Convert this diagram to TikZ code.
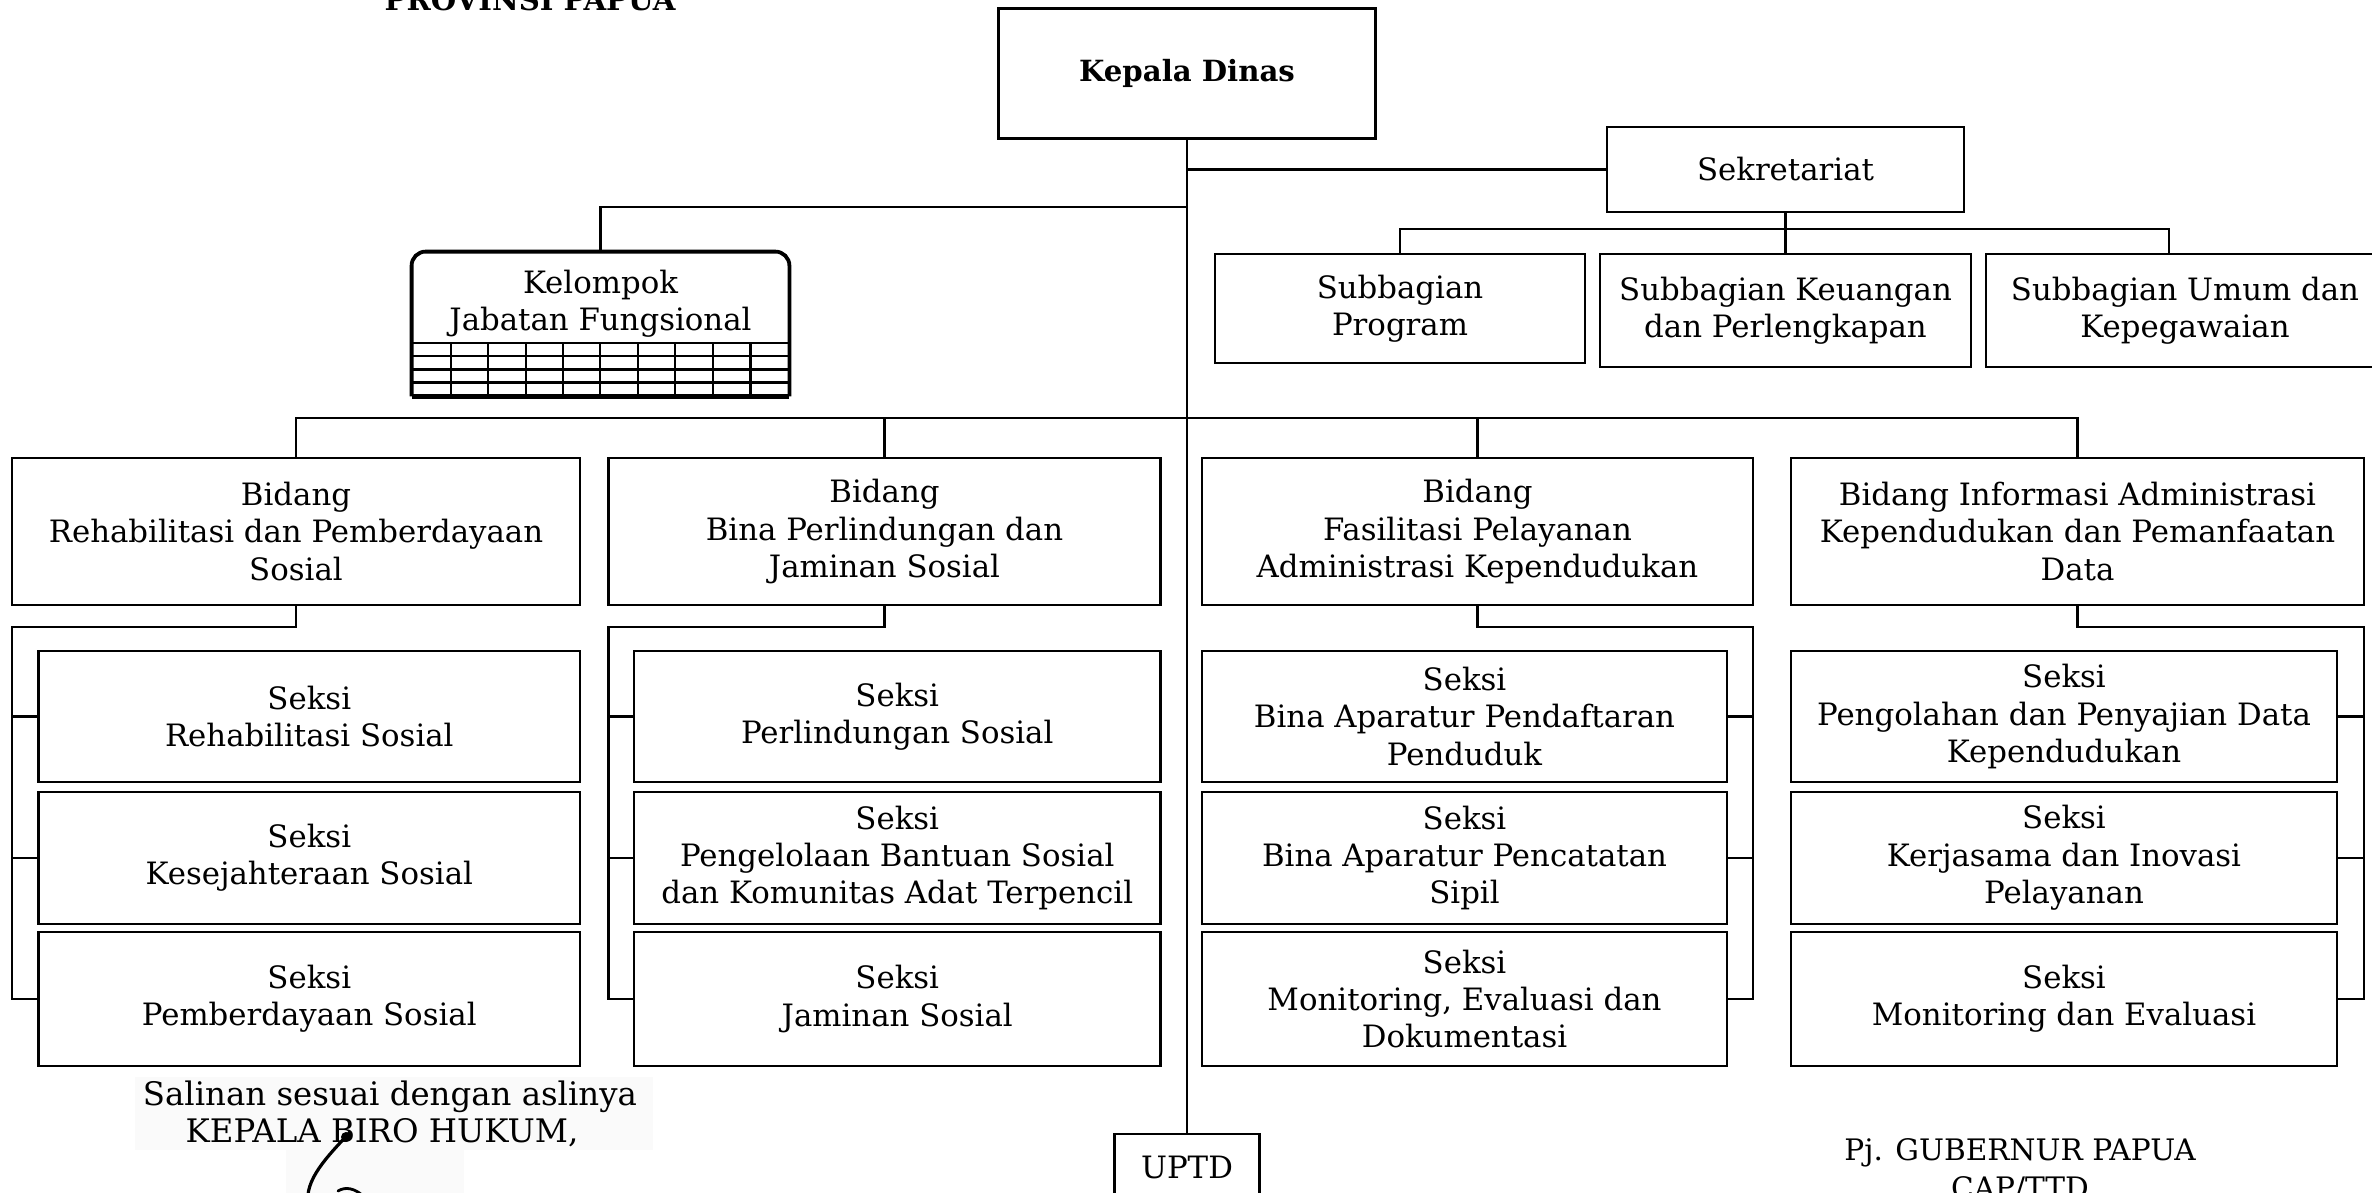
\documentclass[tikz,border=0pt]{standalone}
\usepackage{fontspec}
\setmainfont{DejaVu Serif}
\newcommand\bodyfont{\fontsize{15.4pt}{18.7pt}\selectfont}
\newcommand\headfont{\bfseries\fontsize{14.6pt}{17pt}\selectfont}
\newcommand\signfont{\fontsize{16.2pt}{18.5pt}\selectfont}
\tikzset{
  orgbox/.style={draw, line width=1.35pt, align=center, inner sep=0pt, font=\bodyfont},
  conn/.style={line width=1.05pt},
  gridline/.style={line width=1.1pt},
}
\begin{document}
\begin{tikzpicture}[x=0.5pt,y=-0.5pt]
\useasboundingbox (0,0) rectangle (2372,1193);
\clip (0,0) rectangle (2372,1193);
\fill[white] (0,0) rectangle (2372,1193);

% faint scanned background of the signature block
\fill[gray!4] (135,1077) rectangle (653,1150);
\fill[gray!4] (286,1150) rectangle (464,1193);

% title (cut at top)
\node[anchor=base, font=\headfont, inner sep=0pt] (prov) at (530,11) {PROVINSI PAPUA};

% top level
\node[orgbox, minimum width=188.5pt, minimum height=65pt, font=\headfont] (kd) at (1187,73.5) {Kepala Dinas};
\node[orgbox, minimum width=178.5pt, minimum height=42.5pt] (sek) at (1785.5,169.5) {Sekretariat};

\node[orgbox, minimum width=185pt, minimum height=54.5pt] (sp) at (1400,308.5) {Subbagian\\Program};
\node[orgbox, minimum width=185.5pt, minimum height=56.5pt] (sk) at (1785.5,310.5) {Subbagian Keuangan\\dan Perlengkapan};
\node[orgbox, minimum width=199pt, minimum height=56.5pt] (su) at (2185,310.5) {Subbagian Umum dan\\Kepegawaian};

% Kelompok Jabatan Fungsional
\node[minimum width=188.5pt, minimum height=72pt, inner sep=0pt] (kjf) at (600.5,324) {};
\node[align=center, font=\bodyfont, inner sep=0pt] (kjft) at (600.5,304) {Kelompok\\Jabatan Fungsional};
\foreach \yy in {343,356,369.5,382.5} \draw[gridline] (412,\yy) -- (789,\yy);
\foreach \xx in {450.7,488.3,525.7,563,600.3,637.7,675.3,712.7,750.5} \draw[gridline] (\xx,343) -- (\xx,396);
\draw[line width=1.9pt, rounded corners=7pt] (kjf.south west) -- (kjf.north west) -- (kjf.north east) -- (kjf.south east);
\draw[line width=2.3pt] (kjf.south west) -- (kjf.south east);

% Bidang
\node[orgbox, minimum width=284pt, minimum height=73.5pt] (b1) at (296,531.5) {Bidang\\Rehabilitasi dan Pemberdayaan\\Sosial};
\node[orgbox, minimum width=276pt, minimum height=73.5pt] (b2) at (884.5,531.5) {Bidang\\Bina Perlindungan dan\\Jaminan Sosial};
\node[orgbox, minimum width=275.5pt, minimum height=73.5pt] (b3) at (1477.5,531.5) {Bidang\\Fasilitasi Pelayanan\\Administrasi Kependudukan};
\node[orgbox, minimum width=286.5pt, minimum height=73.5pt] (b4) at (2077.5,531.5) {Bidang Informasi Administrasi\\Kependudukan dan Pemanfaatan\\Data};

% Seksi column 1
\node[orgbox, minimum width=270.7pt, minimum height=65.5pt] (s11) at (309.3,716.5) {Seksi\\Rehabilitasi Sosial};
\node[orgbox, minimum width=270.7pt, minimum height=66pt] (s12) at (309.3,858) {Seksi\\Kesejahteraan Sosial};
\node[orgbox, minimum width=270.7pt, minimum height=67pt] (s13) at (309.3,999) {Seksi\\Pemberdayaan Sosial};
% Seksi column 2
\node[orgbox, minimum width=263.25pt, minimum height=65.5pt] (s21) at (897.25,716.5) {Seksi\\Perlindungan Sosial};
\node[orgbox, minimum width=263.25pt, minimum height=66pt] (s22) at (897.25,858) {Seksi\\Pengelolaan Bantuan Sosial\\dan Komunitas Adat Terpencil};
\node[orgbox, minimum width=263.25pt, minimum height=67pt] (s23) at (897.25,999) {Seksi\\Jaminan Sosial};
% Seksi column 3
\node[orgbox, minimum width=262.5pt, minimum height=65.5pt] (s31) at (1464.5,716.5) {Seksi\\Bina Aparatur Pendaftaran\\Penduduk};
\node[orgbox, minimum width=262.5pt, minimum height=66pt] (s32) at (1464.5,858) {Seksi\\Bina Aparatur Pencatatan\\Sipil};
\node[orgbox, minimum width=262.5pt, minimum height=67pt] (s33) at (1464.5,999) {Seksi\\Monitoring, Evaluasi dan\\Dokumentasi};
% Seksi column 4
\node[orgbox, minimum width=273pt, minimum height=65.5pt] (s41) at (2064,716.5) {Seksi\\Pengolahan dan Penyajian Data\\Kependudukan};
\node[orgbox, minimum width=273pt, minimum height=66pt] (s42) at (2064,858) {Seksi\\Kerjasama dan Inovasi\\Pelayanan};
\node[orgbox, minimum width=273pt, minimum height=67pt] (s43) at (2064,999) {Seksi\\Monitoring dan Evaluasi};

% UPTD
\node[orgbox, minimum width=72.5pt, minimum height=33pt] (uptd) at (1187,1167) {UPTD};

% junction coordinates
\coordinate (jk) at (1187,207);
\coordinate (sbus) at (1785.5,229);
\coordinate (bbus) at (1187,418);
\coordinate (k1) at (12,627);
\coordinate (k2) at (608.5,627);
\coordinate (k3) at (1753,627);
\coordinate (k4) at (2364,627);

% connectors
\draw[conn] (kd.south) -- (uptd.north);
\draw[conn] (kd.south |- sek.west) -- (sek.west);
\draw[conn] (jk) -| (kjf.north);
\draw[conn] (sek.south) -- (sk.north);
\draw[conn] (sp.north) |- (sbus) -| ([xshift=-8pt]su.north);
\draw[conn] (b1.north) |- (bbus) -| (b4.north);
\draw[conn] (b2.north) -- (b2.north |- bbus);
\draw[conn] (b3.north) -- (b3.north |- bbus);

\draw[conn] (b1.south) |- (k1) |- (s13.west);
\draw[conn] (k1 |- s11.west) -- (s11.west);
\draw[conn] (k1 |- s12.west) -- (s12.west);

\draw[conn] (b2.south) |- (k2) |- (s23.west);
\draw[conn] (k2 |- s21.west) -- (s21.west);
\draw[conn] (k2 |- s22.west) -- (s22.west);

\draw[conn] (b3.south) |- (k3) |- (s33.east);
\draw[conn] (k3 |- s31.east) -- (s31.east);
\draw[conn] (k3 |- s32.east) -- (s32.east);

\draw[conn] (b4.south) |- (k4) |- (s43.east);
\draw[conn] (k4 |- s41.east) -- (s41.east);
\draw[conn] (k4 |- s42.east) -- (s42.east);

% signature block left
\node[anchor=base, font=\signfont, inner sep=0pt] (sal) at (390,1105) {Salinan sesuai dengan aslinya};
\node[anchor=base, font=\signfont, inner sep=0pt] (kbh) at (382,1142) {KEPALA BIRO HUKUM,};
\draw[line width=1.6pt, line cap=round] (350,1132) .. controls (334,1150) and (306,1176) .. (308,1200);
\draw[line width=1.4pt, line cap=round] (338,1191) .. controls (346,1186) and (355,1189) .. (362,1195);
\fill (346,1137) circle (5);

% signature block right
\node[anchor=base, font=\fontsize{14.8pt}{18pt}\selectfont, inner sep=0pt] (pj) at (2020,1160) {Pj. GUBERNUR PAPUA};
\node[anchor=base, font=\fontsize{14.8pt}{18pt}\selectfont, inner sep=0pt] (cap) at (2020,1198) {CAP/TTD};
\end{tikzpicture}
\end{document}
